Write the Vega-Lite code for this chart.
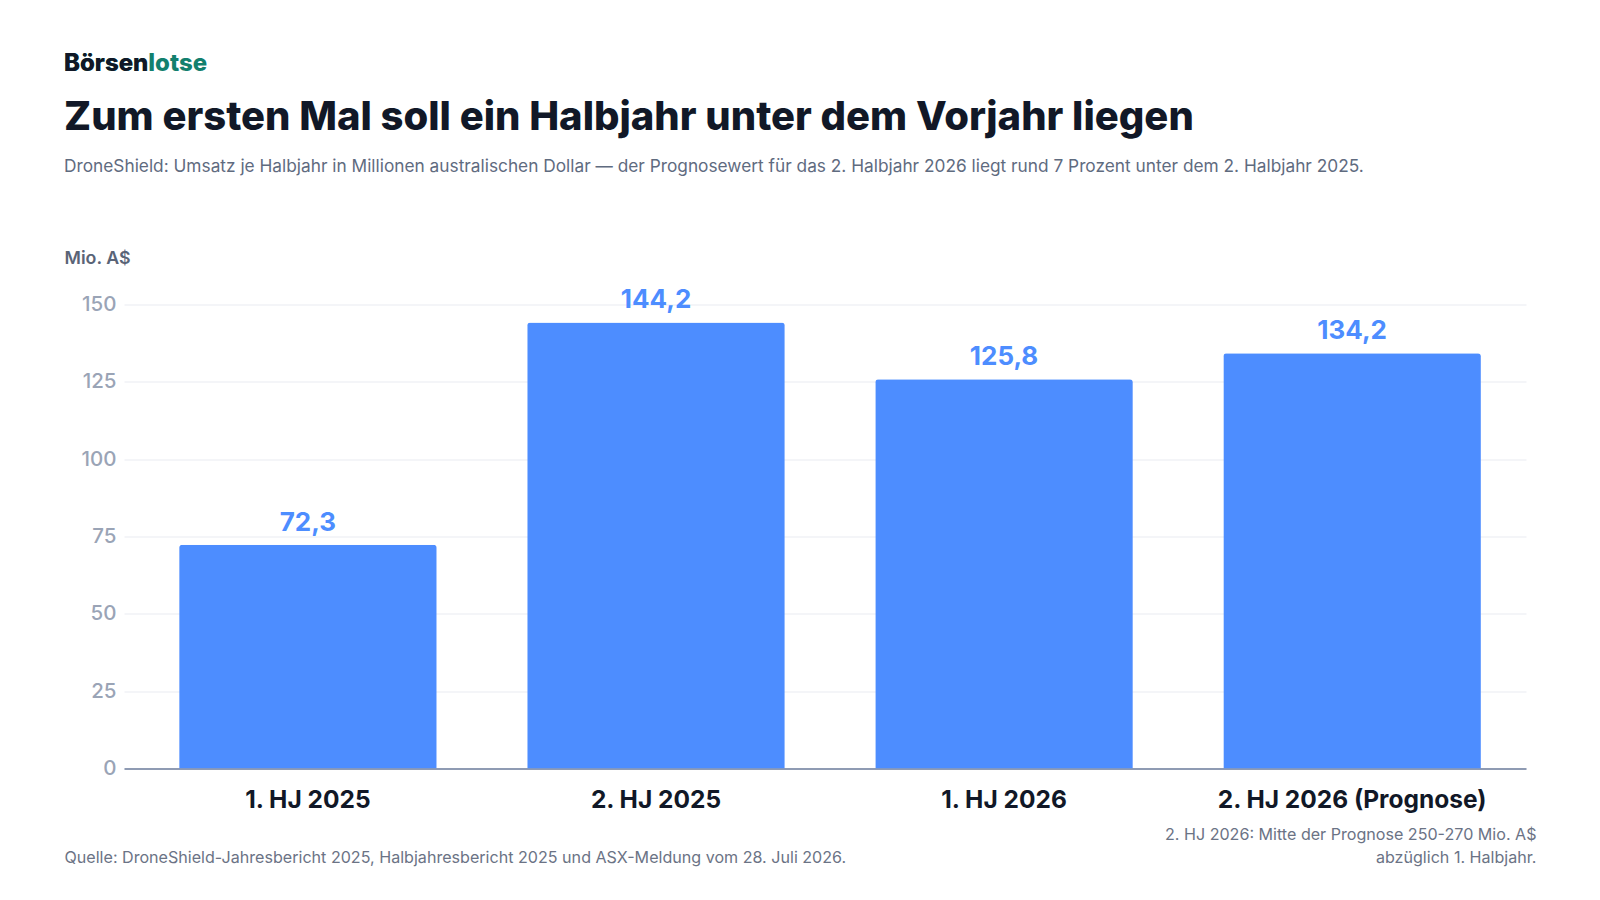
{
  "$schema": "https://vega.github.io/schema/vega-lite/v6.json",
  "background": "white",
  "padding": {"left": 64, "top": 51.5, "right": 20, "bottom": 20},
  "config": {
    "view": {"stroke": null},
    "font": "Inter",
    "locale": {
      "number": {"decimal": ",", "thousands": ".", "grouping": [3], "currency": ["", " €"]}
    }
  },
  "title": {
    "text": "Börsenlotse",
    "subtitle": "Börsen",
    "anchor": "start",
    "frame": "bounds",
    "font": "Inter",
    "fontSize": 24,
    "fontWeight": 800,
    "color": "#12806e",
    "subtitleFont": "Inter",
    "subtitleFontSize": 24,
    "subtitleFontWeight": 800,
    "subtitleColor": "#111827",
    "subtitlePadding": -24,
    "offset": 22
  },
  "vconcat": [
    {
      "width": 1402,
      "height": 464,
      "title": {
        "text": "Zum ersten Mal soll ein Halbjahr unter dem Vorjahr liegen",
        "subtitle": "DroneShield: Umsatz je Halbjahr in Millionen australischen Dollar — der Prognosewert für das 2. Halbjahr 2026 liegt rund 7 Prozent unter dem 2. Halbjahr 2025.",
        "anchor": "start",
        "frame": "bounds",
        "font": "Inter",
        "fontSize": 40,
        "fontWeight": 800,
        "color": "#111827",
        "subtitleFont": "Inter",
        "subtitleFontSize": 17.3,
        "subtitleFontWeight": 400,
        "subtitleColor": "#5f6b7f",
        "subtitlePadding": 20.5,
        "offset": 74
      },
      "data": {
        "values": [
          {"period": "1. HJ 2025", "umsatz": 72.3},
          {"period": "2. HJ 2025", "umsatz": 144.2},
          {"period": "1. HJ 2026", "umsatz": 125.8},
          {"period": "2. HJ 2026 (Prognose)", "umsatz": 134.2}
        ]
      },
      "resolve": {"axis": {"y": "independent"}},
      "layer": [
        {
          "mark": {"type": "bar", "color": "#4d8dff", "cornerRadiusTopLeft": 3, "cornerRadiusTopRight": 3},
          "encoding": {
            "x": {
              "field": "period",
              "type": "nominal",
              "sort": null,
              "scale": {"paddingInner": 0.26, "paddingOuter": 0.144, "align": 0.55},
              "axis": {
                "labelAngle": 0,
                "labelFontSize": 24.5,
                "labelFontWeight": 700,
                "labelColor": "#111827",
                "labelPadding": 20,
                "labelLimit": 500,
                "ticks": false,
                "domainColor": "#8f9bb3",
                "domainWidth": 2,
                "title": "Quelle: DroneShield-Jahresbericht 2025, Halbjahresbericht 2025 und ASX-Meldung vom 28. Juli 2026.",
                "titleFontSize": 16.1,
                "titleFontWeight": 400,
                "titleColor": "#6b7385",
                "titleAlign": "left",
                "titleAnchor": "start",
                "titleBaseline": "alphabetic",
                "titleX": -60,
                "titleY": 94
              }
            },
            "y": {
              "field": "umsatz",
              "type": "quantitative",
              "scale": {"domain": [0, 150], "nice": false},
              "axis": {
                "values": [0, 25, 50, 75, 100, 125, 150],
                "title": "Mio. A$",
                "titleAngle": 0,
                "titleAlign": "left",
                "titleBaseline": "alphabetic",
                "titleX": -60,
                "titleY": -41,
                "titleFontSize": 17.8,
                "titleFontWeight": 600,
                "titleColor": "#5a6477",
                "labelFontSize": 20.5,
                "labelFontWeight": 500,
                "labelColor": "#9aa4b6",
                "labelPadding": 8,
                "ticks": false,
                "domain": false,
                "gridColor": "#e9ecf1",
                "gridWidth": 1.2
              }
            }
          }
        },
        {
          "mark": {"type": "text", "color": "#4d8dff", "fontSize": 26, "fontWeight": 700, "baseline": "alphabetic", "dy": -14},
          "encoding": {
            "x": {"field": "period", "type": "nominal", "sort": null},
            "y": {
              "field": "umsatz",
              "type": "quantitative",
              "axis": {
                "orient": "right",
                "labels": false,
                "ticks": false,
                "domain": false,
                "grid": false,
                "title": ["2. HJ 2026: Mitte der Prognose 250-270 Mio. A$", "abzüglich 1. Halbjahr."],
                "titleAngle": 0,
                "titleAlign": "right",
                "titleBaseline": "alphabetic",
                "titleX": 10,
                "titleY": 535,
                "titleFontSize": 16.1,
                "titleFontWeight": 400,
                "titleColor": "#6b7385",
                "titleLineHeight": 23
              }
            },
            "text": {"field": "umsatz", "type": "quantitative", "format": ".1f"}
          }
        }
      ]
    }
  ]
}
